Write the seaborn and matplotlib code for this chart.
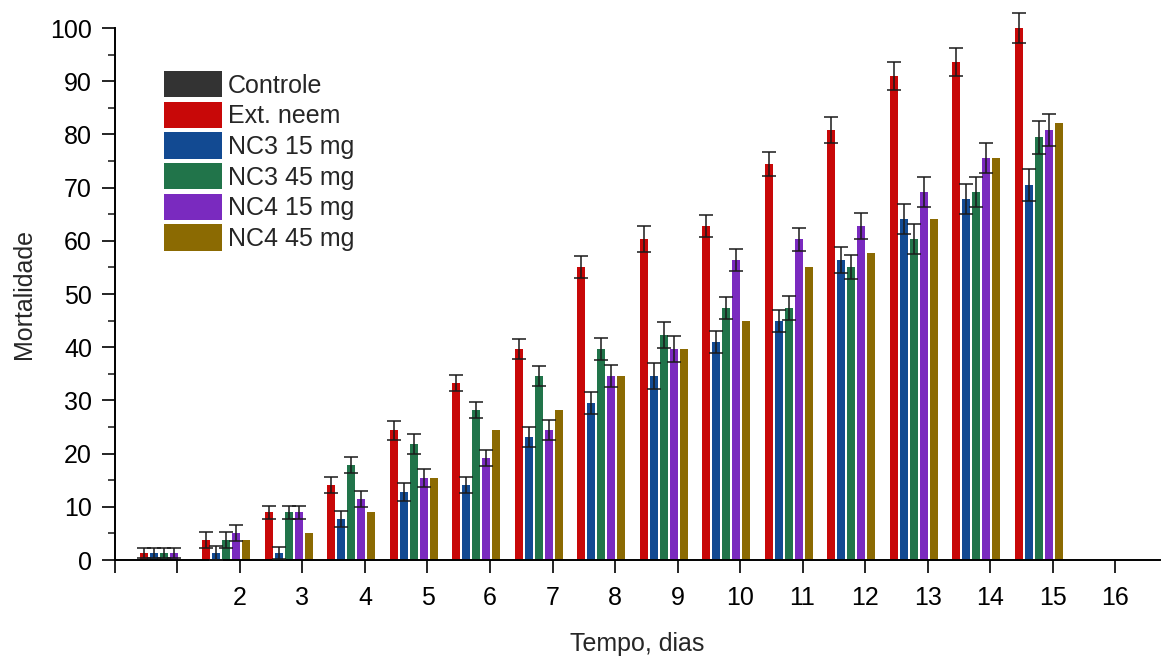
import numpy as np
import pandas as pd
import matplotlib
matplotlib.use("Agg")
import matplotlib.pyplot as plt
from matplotlib.ticker import MultipleLocator
import seaborn as sns

# dados
dias = list(range(1, 16))
series = ["Controle", "Ext. neem", "NC3 15 mg", "NC3 45 mg", "NC4 15 mg", "NC4 45 mg"]
cores = ["#333333", "#C80808", "#124A92", "#21744A", "#7A2ABF", "#8B6A02"]

controle = [0] * 15
ext_neem = [1.3, 3.8, 9.0, 14.1, 24.4, 33.3, 39.7, 55.1, 60.3, 62.8, 74.4, 80.8, 91.0, 93.6, 100.0]
nc3_15 = [1.3, 1.3, 1.3, 7.7, 12.8, 14.1, 23.1, 29.5, 34.6, 41.0, 44.9, 56.4, 64.1, 67.9, 70.5]
nc3_45 = [1.3, 3.8, 9.0, 17.9, 21.8, 28.2, 34.6, 39.7, 42.3, 47.4, 47.4, 55.1, 60.3, 69.2, 79.5]
nc4_15 = [1.3, 5.1, 9.0, 11.5, 15.4, 19.2, 24.4, 34.6, 39.7, 56.4, 60.3, 62.8, 69.2, 75.6, 80.8]
nc4_45 = [0, 3.8, 5.1, 9.0, 15.4, 24.4, 28.2, 34.6, 39.7, 44.9, 55.1, 57.7, 64.1, 75.6, 82.1]

# desvios (so para Ext. neem, NC3 e NC4 15 mg)
err_neem = [1.0, 1.5, 1.2, 1.5, 1.8, 1.5, 1.9, 2.1, 2.4, 2.0, 2.3, 2.5, 2.6, 2.6, 2.9]
err_nc3_15 = [1.0, 1.3, 1.2, 1.5, 1.7, 1.5, 1.9, 2.1, 2.4, 2.0, 2.1, 2.5, 2.8, 2.8, 3.0]
err_nc3_45 = [1.0, 1.5, 1.2, 1.5, 1.8, 1.5, 1.9, 2.1, 2.4, 2.0, 2.3, 2.2, 2.8, 2.8, 3.1]
err_nc4_15 = [1.0, 1.5, 1.2, 1.5, 1.7, 1.5, 1.9, 2.0, 2.4, 2.0, 2.2, 2.5, 2.8, 2.8, 3.0]

valores = [controle, ext_neem, nc3_15, nc3_45, nc4_15, nc4_45]
erros = [None, err_neem, err_nc3_15, err_nc3_45, err_nc4_15, None]

df = pd.DataFrame({
    "dia": np.tile(dias, len(series)),
    "serie": np.repeat(series, len(dias)),
    "mort": np.concatenate(valores),
})

sns.set_style("ticks")
plt.rcParams["font.family"] = ["Liberation Sans", "DejaVu Sans"]

fig = plt.figure(figsize=(11.73, 6.57), dpi=100)
ax = fig.add_axes([0.098, 0.1476, 0.891, 0.8097])

sns.barplot(data=df, x="dia", y="mort", hue="serie", hue_order=series,
            palette=cores, native_scale=True, width=0.96, gap=0.2,
            errorbar=None, linewidth=0, saturation=1, ax=ax)

# barras de erro sobre as barras desenhadas pelo seaborn
for cont, err in zip(ax.containers, erros):
    if err is None:
        continue
    xs = [p.get_x() + p.get_width() / 2 for p in cont.patches]
    hs = [p.get_height() for p in cont.patches]
    ax.errorbar(xs, hs, yerr=err, fmt="none", ecolor="#1a1a1a",
                elinewidth=1.1, capsize=5.3, capthick=1.1, clip_on=False, zorder=5)

ax.set_xlim(0.3, 17.02)
ax.set_ylim(0, 100)
ticks = np.arange(0, 17) + 0.3
ax.set_xticks(ticks)
ax.set_xticklabels(["", ""] + [str(d) for d in range(2, 17)])
ax.yaxis.set_major_locator(MultipleLocator(10))
ax.yaxis.set_minor_locator(MultipleLocator(5))

for s in ["top", "right"]:
    ax.spines[s].set_visible(False)
for s in ["left", "bottom"]:
    ax.spines[s].set_linewidth(1.4)
    ax.spines[s].set_color("black")

ax.tick_params(axis="both", which="major", direction="out", length=9.5, width=1.2,
               labelsize=18, colors="black")
ax.tick_params(axis="x", which="major", pad=9)
ax.tick_params(axis="y", which="major", pad=7)
ax.tick_params(axis="y", which="minor", direction="out", length=5, width=1.2)

ax.set_xlabel("Tempo, dias", fontsize=18, labelpad=16)
ax.set_ylabel("Mortalidade", fontsize=18, labelpad=10)

ax.legend(loc="upper left", bbox_to_anchor=(164 / 1173, 1 - 71 / 657),
          bbox_transform=fig.transFigure, frameon=False, fontsize=18,
          handlelength=2.3, handleheight=1.25, labelspacing=0.16,
          handletextpad=0.25, borderpad=0, borderaxespad=0)

fig.savefig("out.png", dpi=100)
